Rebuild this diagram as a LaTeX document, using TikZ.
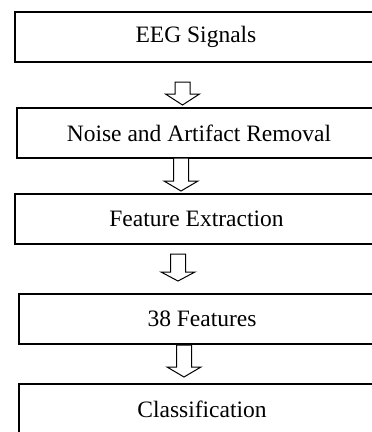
\documentclass[tikz,border=0pt]{standalone}
\usepackage{fontspec}
\setmainfont{Liberation Serif}
\begin{document}
\begin{tikzpicture}[x=1pt,y=-1pt,
  stage/.style={draw=black, line width=1.3pt, fill=white, minimum height=50pt,
    inner sep=0pt, font=\fontsize{23.5}{28}\selectfont, anchor=center},
  blockarrow/.style={draw=black, line width=1pt, fill=white, line join=miter}]
\useasboundingbox (0,0) rectangle (372,432);
\clip (0,0) rectangle (372,432);

% process stages
\node[stage, minimum width=362pt] (eeg)      at (196,37)  {EEG Signals};
\node[stage, minimum width=364pt] (noise)    at (199,133) {Noise and Artifact Removal};
\node[stage, minimum width=363pt] (feat)     at (196.5,219) {Feature Extraction};
\node[stage, minimum width=366pt] (features) at (202,319) {38 Features};
\node[stage, minimum width=366pt] (classif)  at (202,409) {Classification};

% hollow down arrows between stages: centre x, top, head base, tip
\newcommand\hollowdown[4]{%
  \draw[blockarrow] (#1-7.5,#2) -- (#1-7.5,#3) -- (#1-17,#3) -- (#1,#4)
    -- (#1+17,#3) -- (#1+7.5,#3) -- (#1+7.5,#2) -- cycle;}
\hollowdown{182.5}{82}{94}{105}
\hollowdown{181}{158}{181}{191}
\hollowdown{178}{254}{272}{281}
\hollowdown{184}{345}{367}{377}
\end{tikzpicture}
\end{document}
